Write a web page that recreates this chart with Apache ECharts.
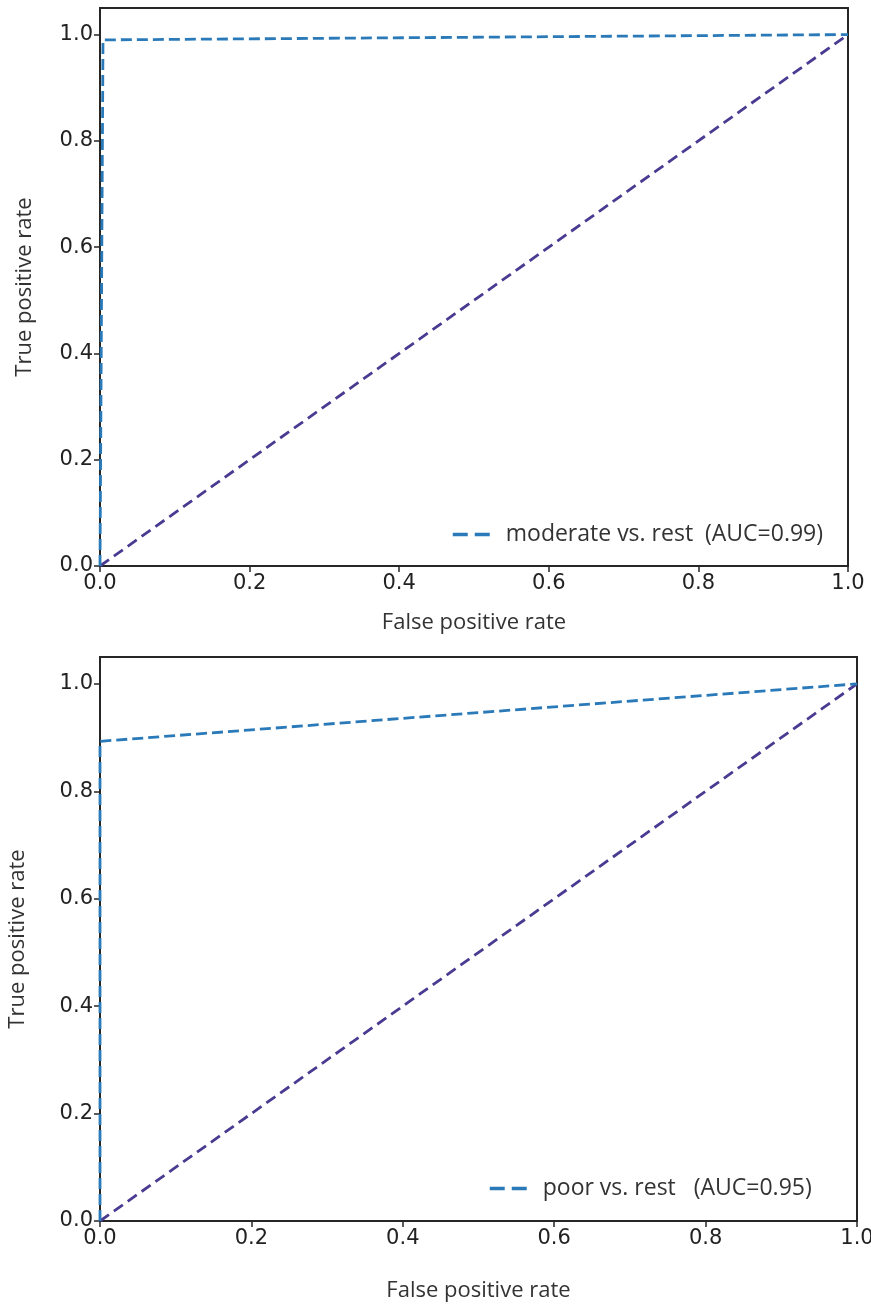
<!DOCTYPE html>
<html>
<head>
<meta charset="utf-8">
<script src="https://cdn.jsdelivr.net/npm/echarts@6/dist/echarts.min.js"></script>
<style>
  html, body { margin: 0; padding: 0; background: #fff; }
  #chart { width: 871px; height: 1304px; }
</style>
</head>
<body>
<div id="chart"></div>
<script>
// ROC data
const moderateName = 'moderate vs. rest  (AUC=0.99)';
const moderateRoc = [[0, 0], [0.004, 0.99], [1, 1]];
const poorName = 'poor vs. rest   (AUC=0.95)';
const poorRoc = [[0, 0], [0, 0.893], [1, 1]];
const chanceLine = [[0, 0], [1, 1]];
const tickValues = [0, 0.2, 0.4, 0.6, 0.8, 1.0];

const rocColor = '#2a7ab9';
const chanceColor = '#4b3a91';
const axisColor = '#262626';
const tickFont = 'DejaVu Sans';
const nameFont = 'Open Sans';

const chart = echarts.init(document.getElementById('chart'));

function makeAxis(idx, nameText, nameGap, isY) {
  return {
    type: 'value',
    gridIndex: idx,
    min: 0,
    max: isY ? 1.05 : 1,
    name: nameText,
    nameLocation: 'middle',
    nameGap: nameGap,
    nameTextStyle: { fontFamily: nameFont, fontSize: 22, color: '#333' },
    axisLine: { show: true, lineStyle: { color: axisColor, width: 2 } },
    axisTick: { show: true, length: 6, inside: false, customValues: tickValues,
      lineStyle: { color: axisColor, width: 1.5 } },
    axisLabel: { customValues: tickValues, fontFamily: tickFont, fontSize: 21, color: '#222',
      margin: 7, formatter: v => v.toFixed(1) },
    splitLine: { show: false }
  };
}

function makeLegend(name, left, top) {
  return {
    data: [name],
    left: left, top: top,
    itemWidth: 38, itemHeight: 14,
    itemStyle: { opacity: 0 },
    lineStyle: { width: 3.5, type: [15, 7] },
    textStyle: { fontFamily: nameFont, fontSize: 23, color: '#333', padding: [0, 0, 0, 10] }
  };
}

const option = {
  animation: false,
  backgroundColor: '#fff',
  grid: [
    { left: 100, top: 8, width: 748, height: 558, show: true, borderColor: axisColor, borderWidth: 2,
      outerBoundsMode: 'none', containLabel: false },
    { left: 100, top: 657, width: 757, height: 564, show: true, borderColor: axisColor, borderWidth: 2,
      outerBoundsMode: 'none', containLabel: false }
  ],
  xAxis: [
    makeAxis(0, 'False positive rate', 46, false),
    makeAxis(1, 'False positive rate', 59, false)
  ],
  yAxis: [
    makeAxis(0, 'True positive rate', 64, true),
    makeAxis(1, 'True positive rate', 71, true)
  ],
  legend: [
    makeLegend(moderateName, 446, 518),
    makeLegend(poorName, 483, 1172)
  ],
  series: [
    {
      name: moderateName, type: 'line', xAxisIndex: 0, yAxisIndex: 0,
      data: moderateRoc, symbol: 'none', z: 3,
      lineStyle: { color: rocColor, width: 2.8, type: [11, 5] },
      itemStyle: { color: rocColor }
    },
    {
      name: 'chance-top', type: 'line', xAxisIndex: 0, yAxisIndex: 0,
      data: chanceLine, symbol: 'none', z: 2,
      lineStyle: { color: chanceColor, width: 2.8, type: [11, 6] },
      itemStyle: { color: chanceColor }
    },
    {
      name: poorName, type: 'line', xAxisIndex: 1, yAxisIndex: 1,
      data: poorRoc, symbol: 'none', z: 3,
      lineStyle: { color: rocColor, width: 2.8, type: [11, 5] },
      itemStyle: { color: rocColor }
    },
    {
      name: 'chance-bottom', type: 'line', xAxisIndex: 1, yAxisIndex: 1,
      data: chanceLine, symbol: 'none', z: 2,
      lineStyle: { color: chanceColor, width: 2.8, type: [11, 6] },
      itemStyle: { color: chanceColor }
    }
  ]
};

chart.setOption(option);
</script>
</body>
</html>
